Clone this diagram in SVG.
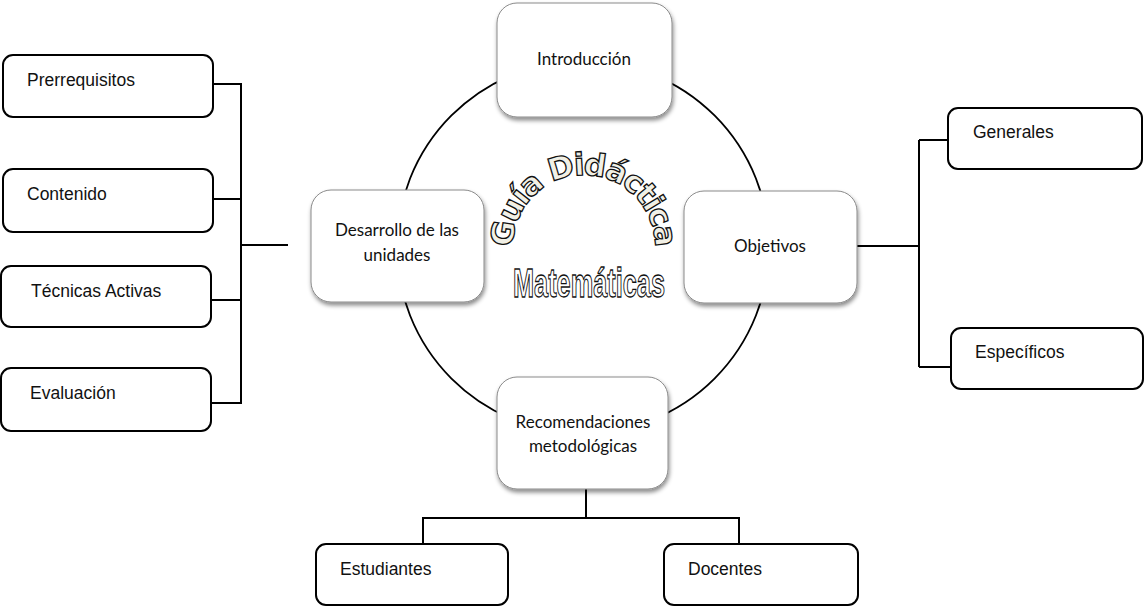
<svg xmlns="http://www.w3.org/2000/svg" width="1144" height="607" viewBox="0 0 1144 607">
<defs>
<filter id="sh" x="-20%" y="-20%" width="140%" height="150%">
<feDropShadow dx="1" dy="3" stdDeviation="2.2" flood-color="#000" flood-opacity="0.45"/>
</filter>
<path id="arc" d="M 522.5 281.5 A 71 71 0 1 1 645.5 281.5"/>
</defs>
<style>
.main{fill:#fff;stroke:#8a8a8a;stroke-width:1;filter:url(#sh)}
.side{fill:#fff;stroke:#000;stroke-width:2}
.conn{fill:none;stroke:#000;stroke-width:2}
.ct{font-family:Lato,"Open Sans",sans-serif;font-size:17px;fill:#111;text-anchor:middle}
.st{font-family:"Liberation Sans",Arial,sans-serif;font-size:17.5px;fill:#111}
.wa{font-family:"DejaVu Sans",sans-serif;font-weight:bold;font-size:31px;fill:#f1f0e6;stroke:#111;stroke-width:1.3}
.wb{font-family:"Liberation Sans",Arial,sans-serif;font-weight:bold;font-size:41px;fill:#fff;stroke:#111;stroke-width:1.3;text-anchor:middle}
</style>
<rect width="1144" height="607" fill="#fff"/>
<g id="connectors">
<circle cx="583" cy="247" r="186" fill="none" stroke="#000" stroke-width="1.8"/>
<path class="conn" d="M212 84H241M212 199H241M210 300H241M212 403H241M241 83V404M241 245H288"/>
<path class="conn" d="M857 246H919M919 140V367M919 140H948M919 367H951"/>
<path class="conn" d="M586 489V518M423 518H739M423 517V544M739 517V544"/>
</g>
<g id="title">
<text class="wa"><textPath href="#arc" startOffset="50%" text-anchor="middle" textLength="226" lengthAdjust="spacing">Guía Didáctica</textPath></text>
<text class="wb" x="589" y="297" textLength="152" lengthAdjust="spacingAndGlyphs">Matemáticas</text>
</g>
<g id="introduccion">
<rect class="main" x="497" y="3" width="175" height="114" rx="20"/>
<text class="ct" x="584" y="65">Introducción</text>
</g>
<g id="desarrollo">
<rect class="main" x="311" y="190" width="173" height="112" rx="20"/>
<text class="ct" x="397" y="236">Desarrollo de las</text>
<text class="ct" x="397" y="261">unidades</text>
</g>
<g id="objetivos">
<rect class="main" x="684" y="191" width="173" height="112" rx="20"/>
<text class="ct" x="770" y="252">Objetivos</text>
</g>
<g id="recomendaciones">
<rect class="main" x="497" y="377" width="171" height="112" rx="20"/>
<text class="ct" x="583" y="428">Recomendaciones</text>
<text class="ct" x="583" y="452">metodológicas</text>
</g>
<g id="prerrequisitos">
<rect class="side" x="3" y="55" width="210" height="62" rx="10"/>
<text class="st" x="27" y="86">Prerrequisitos</text>
</g>
<g id="contenido">
<rect class="side" x="3" y="169" width="210" height="63" rx="10"/>
<text class="st" x="27" y="200">Contenido</text>
</g>
<g id="tecnicas">
<rect class="side" x="1" y="266" width="210" height="61" rx="10"/>
<text class="st" x="31" y="297">Técnicas Activas</text>
</g>
<g id="evaluacion">
<rect class="side" x="1" y="368" width="210" height="63" rx="10"/>
<text class="st" x="30" y="399">Evaluación</text>
</g>
<g id="generales">
<rect class="side" x="948" y="108" width="194" height="61" rx="10"/>
<text class="st" x="973" y="138">Generales</text>
</g>
<g id="especificos">
<rect class="side" x="951" y="328" width="192" height="61" rx="10"/>
<text class="st" x="975" y="358">Específicos</text>
</g>
<g id="estudiantes">
<rect class="side" x="316" y="544" width="192" height="61" rx="10"/>
<text class="st" x="340" y="575">Estudiantes</text>
</g>
<g id="docentes">
<rect class="side" x="664" y="544" width="194" height="61" rx="10"/>
<text class="st" x="688" y="575">Docentes</text>
</g>
</svg>
